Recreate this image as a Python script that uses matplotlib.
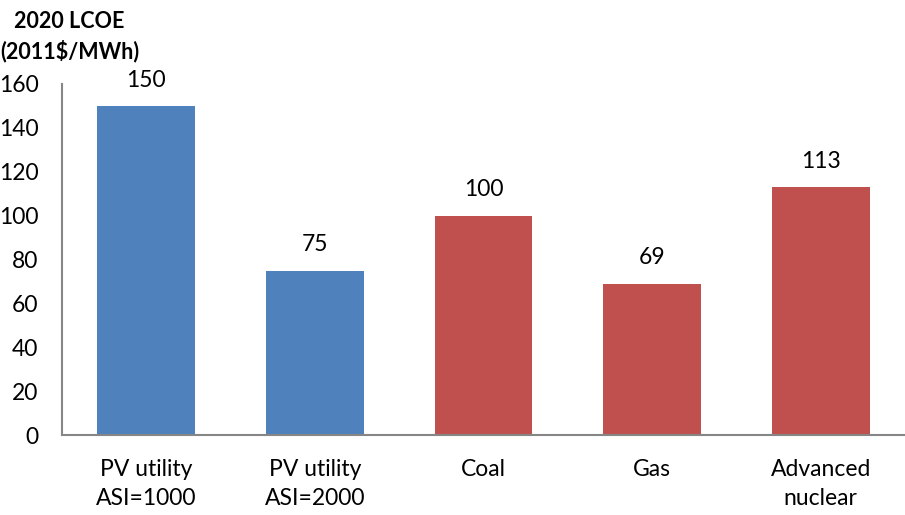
import matplotlib.pyplot as plt

categories = ['PV utility\nASI=1000', 'PV utility\nASI=2000', 'Coal', 'Gas', 'Advanced\nnuclear']
lcoe = [150, 75, 100, 69, 113]
bar_colors = ['#4F81BD', '#4F81BD', '#C0504D', '#C0504D', '#C0504D']

plt.rcParams['font.family'] = ['Lato', 'DejaVu Sans']

fig = plt.figure(figsize=(9.05, 5.15), dpi=100)
ax = fig.add_axes([0.0685, 0.155, 0.9315, 0.682])

x = range(len(categories))
bars = ax.bar(x, lcoe, width=0.58, color=bar_colors)
for xi, v in zip(x, lcoe):
    ax.text(xi, v + 7, str(v), ha='center', va='bottom', fontsize=16.5)

ax.set_xlim(-0.5, len(categories) - 0.5)
ax.set_ylim(0, 160)
ax.set_yticks(range(0, 161, 20))
ax.set_xticks(list(x))
ax.set_xticklabels(categories, linespacing=1.5)
ax.tick_params(axis='y', length=0, pad=17, labelsize=16.5)
ax.tick_params(axis='x', length=0, pad=17, labelsize=16.5)

for s in ['top', 'right']:
    ax.spines[s].set_visible(False)
for s in ['left', 'bottom']:
    ax.spines[s].set_color('#868686')
    ax.spines[s].set_linewidth(1.5)

fig.text(0.077, 0.978, '2020 LCOE\n(2011$/MWh)', ha='center', va='top',
         fontsize=15.5, fontweight='bold', linespacing=1.4)

fig.savefig('out.png', dpi=100)
